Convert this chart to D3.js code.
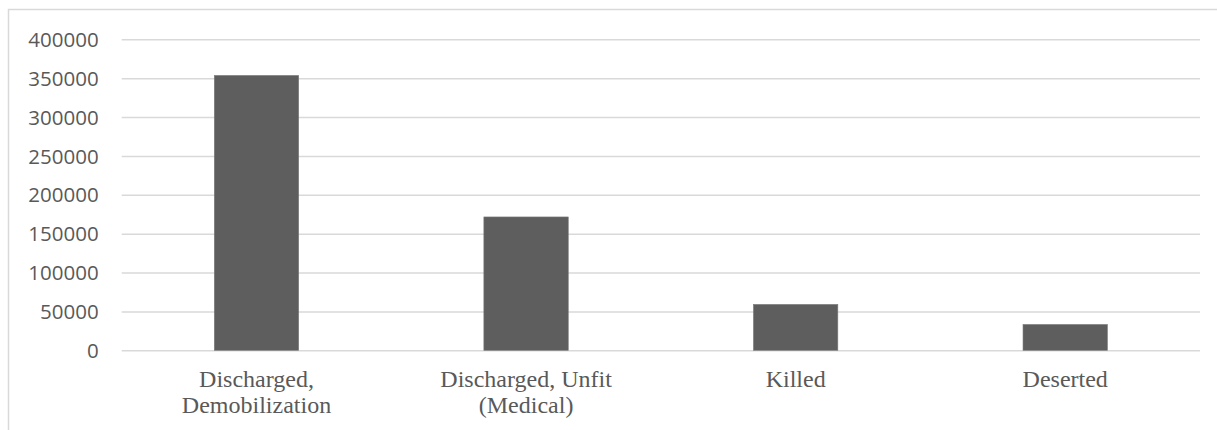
<!DOCTYPE html>
<html>
<head>
<meta charset="utf-8">
<script src="https://cdn.jsdelivr.net/npm/d3@7"></script>
<style>
  html, body { margin: 0; padding: 0; background: #ffffff; }
  svg { display: block; }
</style>
</head>
<body>
<svg id="chart" width="1217" height="430"></svg>
<script>
// Outcomes of service: number of soldiers per category
const categories = [
  ["Discharged,", "Demobilization"],
  ["Discharged, Unfit", "(Medical)"],
  ["Killed"],
  ["Deserted"]
];
const values = [353500, 171500, 59000, 33200];
const yTicks = [0, 50000, 100000, 150000, 200000, 250000, 300000, 350000, 400000];

const svg = d3.select("#chart");
const W = 1217, H = 430;

// Outer chart frame
svg.append("rect")
  .attr("x", 8.5).attr("y", 9.5)
  .attr("width", W + 10).attr("height", H + 10)
  .attr("fill", "#ffffff")
  .attr("stroke", "#d9d9d9")
  .attr("stroke-width", 1.5);

const plot = { left: 121.7, right: 1200, top: 39.3, bottom: 350.3 };

const keys = categories.map((c, i) => i);
const x = d3.scaleBand()
  .domain(keys)
  .range([plot.left, plot.right])
  .padding(0);

const y = d3.scaleLinear()
  .domain([0, 400000])
  .range([plot.bottom, plot.top]);

// Horizontal gridlines with tick labels
const yAxis = d3.axisLeft(y)
  .tickValues(yTicks)
  .tickSize(-(plot.right - plot.left))
  .tickPadding(23)
  .tickFormat(d3.format("d"));

const gy = svg.append("g")
  .attr("transform", `translate(${plot.left},0)`)
  .call(yAxis);
gy.select(".domain").remove();
gy.selectAll(".tick line")
  .attr("stroke", "#d9d9d9")
  .attr("stroke-width", 1.5);
gy.selectAll(".tick text")
  .attr("fill", "#595959")
  .attr("font-family", "'Open Sans', 'Noto Sans', sans-serif")
  .attr("font-size", "20.5px")
  .attr("dy", "0.35em");

// Bars
const barFrac = 0.313;
svg.append("g")
  .selectAll("rect")
  .data(values)
  .join("rect")
  .attr("x", (d, i) => x(i) + x.bandwidth() * (1 - barFrac) / 2)
  .attr("width", x.bandwidth() * barFrac)
  .attr("y", d => y(d))
  .attr("height", d => y(0) - y(d))
  .attr("fill", "#5e5e5e")
  .attr("stroke", "#7a7a7a")
  .attr("stroke-width", 0.6);

// Category labels under the axis, wrapped on two lines where needed
const xAxis = d3.axisBottom(x).tickSize(0).tickFormat("");
const gx = svg.append("g")
  .attr("transform", `translate(0,${plot.bottom})`)
  .call(xAxis);
gx.select(".domain").remove();
gx.selectAll(".tick").each(function(i) {
  const t = d3.select(this).append("text")
    .attr("fill", "#595959")
    .attr("font-family", "'Liberation Serif', 'Times New Roman', serif")
    .attr("font-size", "24px")
    .attr("text-anchor", "middle");
  categories[i].forEach((line, k) => {
    t.append("tspan")
      .attr("x", 0)
      .attr("y", 36.6 + k * 26.6)
      .text(line);
  });
});
</script>
</body>
</html>
